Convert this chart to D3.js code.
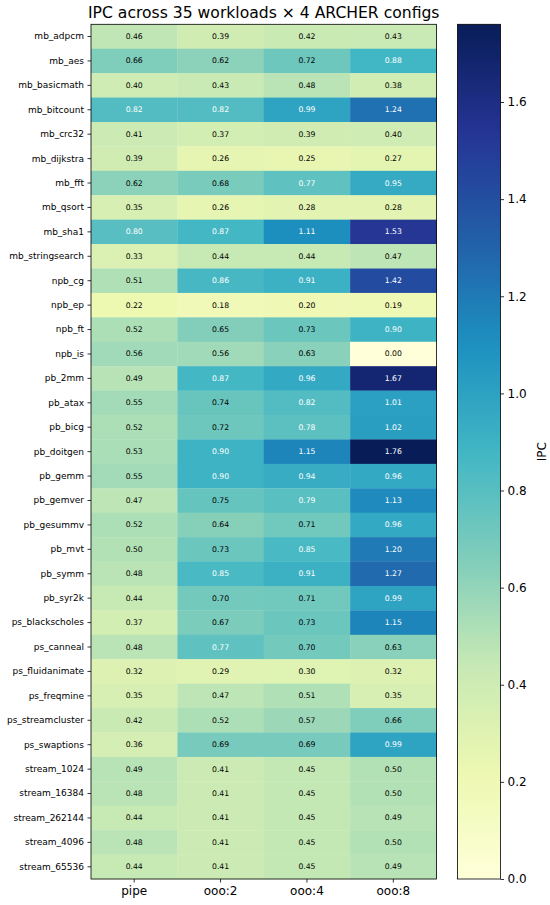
<!DOCTYPE html>
<html>
<head>
<meta charset="utf-8">
<script src="https://cdn.jsdelivr.net/npm/d3@7"></script>
<style>
  body { margin: 0; background: #fff; }
  svg text { font-family: "DejaVu Sans", sans-serif; }
</style>
</head>
<body>
<svg id="chart"></svg>
<script>
const workloads = [
  "mb_adpcm", "mb_aes", "mb_basicmath", "mb_bitcount", "mb_crc32", "mb_dijkstra",
  "mb_fft", "mb_qsort", "mb_sha1", "mb_stringsearch", "npb_cg", "npb_ep", "npb_ft",
  "npb_is", "pb_2mm", "pb_atax", "pb_bicg", "pb_doitgen", "pb_gemm", "pb_gemver",
  "pb_gesummv", "pb_mvt", "pb_symm", "pb_syr2k", "ps_blackscholes", "ps_canneal",
  "ps_fluidanimate", "ps_freqmine", "ps_streamcluster", "ps_swaptions",
  "stream_1024", "stream_16384", "stream_262144", "stream_4096", "stream_65536"
];
const configs = ["pipe", "ooo:2", "ooo:4", "ooo:8"];

// IPC per config, one value per workload (same order as workloads)
const ipcPipe = [0.46, 0.66, 0.40, 0.82, 0.41, 0.39, 0.62, 0.35, 0.80, 0.33, 0.51, 0.22, 0.52,
  0.56, 0.49, 0.55, 0.52, 0.53, 0.55, 0.47, 0.52, 0.50, 0.48, 0.44, 0.37, 0.48,
  0.32, 0.35, 0.42, 0.36, 0.49, 0.48, 0.44, 0.48, 0.44];
const ipcOoo2 = [0.39, 0.62, 0.43, 0.82, 0.37, 0.26, 0.68, 0.26, 0.87, 0.44, 0.86, 0.18, 0.65,
  0.56, 0.87, 0.74, 0.72, 0.90, 0.90, 0.75, 0.64, 0.73, 0.85, 0.70, 0.67, 0.77,
  0.29, 0.47, 0.52, 0.69, 0.41, 0.41, 0.41, 0.41, 0.41];
const ipcOoo4 = [0.42, 0.72, 0.48, 0.99, 0.39, 0.25, 0.77, 0.28, 1.11, 0.44, 0.91, 0.20, 0.73,
  0.63, 0.96, 0.82, 0.78, 1.15, 0.94, 0.79, 0.71, 0.85, 0.91, 0.71, 0.73, 0.70,
  0.30, 0.51, 0.57, 0.69, 0.45, 0.45, 0.45, 0.45, 0.45];
const ipcOoo8 = [0.43, 0.88, 0.38, 1.24, 0.40, 0.27, 0.95, 0.28, 1.53, 0.47, 1.42, 0.19, 0.90,
  0.00, 1.67, 1.01, 1.02, 1.76, 0.96, 1.13, 0.96, 1.20, 1.27, 0.99, 1.15, 0.63,
  0.32, 0.35, 0.66, 0.99, 0.50, 0.50, 0.49, 0.50, 0.49];

const series = [ipcPipe, ipcOoo2, ipcOoo4, ipcOoo8];
const colorbarTicks = [0, 0.2, 0.4, 0.6, 0.8, 1.0, 1.2, 1.4, 1.6];

// ColorBrewer YlGnBu, linear segments like matplotlib
const ylgnbu = ["#ffffd9", "#edf8b1", "#c7e9b4", "#7fcdbb", "#41b6c4",
                "#1d91c0", "#225ea8", "#253494", "#081d58"];

const cells = [];
workloads.forEach((w, i) => {
  configs.forEach((c, j) => cells.push({ w: w, c: c, v: series[j][i] }));
});

const W = 550, H = 905;
const margin = { top: 24.3, left: 91, bottom: 26 };
const heatW = 345.5;
const heatH = H - margin.top - margin.bottom;
const cbX = 457.5, cbW = 43;

const vmax = d3.max(cells, d => d.v);
const color = d3.scaleLinear()
  .domain(ylgnbu.map((_, k) => vmax * k / (ylgnbu.length - 1)))
  .range(ylgnbu)
  .interpolate(d3.interpolateRgb)
  .clamp(true);

const svg = d3.select("#chart").attr("width", W).attr("height", H);
const g = svg.append("g").attr("transform", `translate(${margin.left},${margin.top})`);

const x = d3.scaleBand().domain(configs).range([0, heatW]);
const y = d3.scaleBand().domain(workloads).range([0, heatH]);

g.selectAll("rect.cell")
  .data(cells)
  .join("rect")
  .attr("class", "cell")
  .attr("x", d => x(d.c))
  .attr("y", d => y(d.w))
  .attr("width", x.bandwidth() + 0.3)
  .attr("height", y.bandwidth() + 0.3)
  .attr("fill", d => color(d.v));

g.selectAll("text.val")
  .data(cells)
  .join("text")
  .attr("class", "val")
  .attr("x", d => x(d.c) + x.bandwidth() / 2)
  .attr("y", d => y(d.w) + y.bandwidth() / 2)
  .attr("text-anchor", "middle")
  .attr("dominant-baseline", "central")
  .attr("font-size", 7.7)
  .attr("fill", d => d.v > 0.76 ? "#ffffff" : "#000000")
  .text(d => d.v.toFixed(2));

g.append("rect")
  .attr("width", heatW).attr("height", heatH)
  .attr("fill", "none").attr("stroke", "#000").attr("stroke-width", 0.8);

const xAxisG = g.append("g")
  .attr("transform", `translate(0,${heatH})`)
  .call(d3.axisBottom(x).tickSize(3.5).tickPadding(3.5).tickSizeOuter(0));
xAxisG.selectAll("text").attr("font-size", 12).attr("fill", "#000");

const yAxisG = g.append("g")
  .call(d3.axisLeft(y).tickSize(3.5).tickPadding(3.5).tickSizeOuter(0));
yAxisG.selectAll("text").attr("font-size", 9).attr("fill", "#000");

[xAxisG, yAxisG].forEach(a => {
  a.select(".domain").remove();
  a.selectAll("line").attr("stroke", "#000").attr("stroke-width", 0.8);
});

svg.append("text")
  .attr("x", margin.left + heatW / 2)
  .attr("y", 18.2)
  .attr("text-anchor", "middle")
  .attr("font-size", 15.6)
  .attr("fill", "#000")
  .text("IPC across 35 workloads \u00d7 4 ARCHER configs");

// colorbar
const cbScale = d3.scaleLinear().domain([0, vmax]).range([margin.top + heatH, margin.top]);
const grad = svg.append("defs").append("linearGradient")
  .attr("id", "cbgrad").attr("x1", 0).attr("y1", 1).attr("x2", 0).attr("y2", 0);
grad.selectAll("stop")
  .data(d3.range(0, 1.0001, 0.02))
  .join("stop")
  .attr("offset", t => t)
  .attr("stop-color", t => color(t * vmax));

svg.append("rect")
  .attr("x", cbX).attr("y", margin.top)
  .attr("width", cbW).attr("height", heatH)
  .attr("fill", "url(#cbgrad)")
  .attr("stroke", "#000").attr("stroke-width", 0.8);

const cbAxisG = svg.append("g")
  .attr("transform", `translate(${cbX + cbW},0)`)
  .call(d3.axisRight(cbScale).tickValues(colorbarTicks).tickFormat(d3.format(".1f"))
    .tickSize(3.5).tickPadding(3.5).tickSizeOuter(0));
cbAxisG.select(".domain").remove();
cbAxisG.selectAll("line").attr("stroke", "#000").attr("stroke-width", 0.8);
cbAxisG.selectAll("text").attr("font-size", 12).attr("fill", "#000");

svg.append("text")
  .attr("transform", `translate(541.5,${margin.top + heatH / 2}) rotate(-90)`)
  .attr("text-anchor", "middle")
  .attr("dominant-baseline", "central")
  .attr("font-size", 12)
  .attr("fill", "#000")
  .text("IPC");
</script>
</body>
</html>
